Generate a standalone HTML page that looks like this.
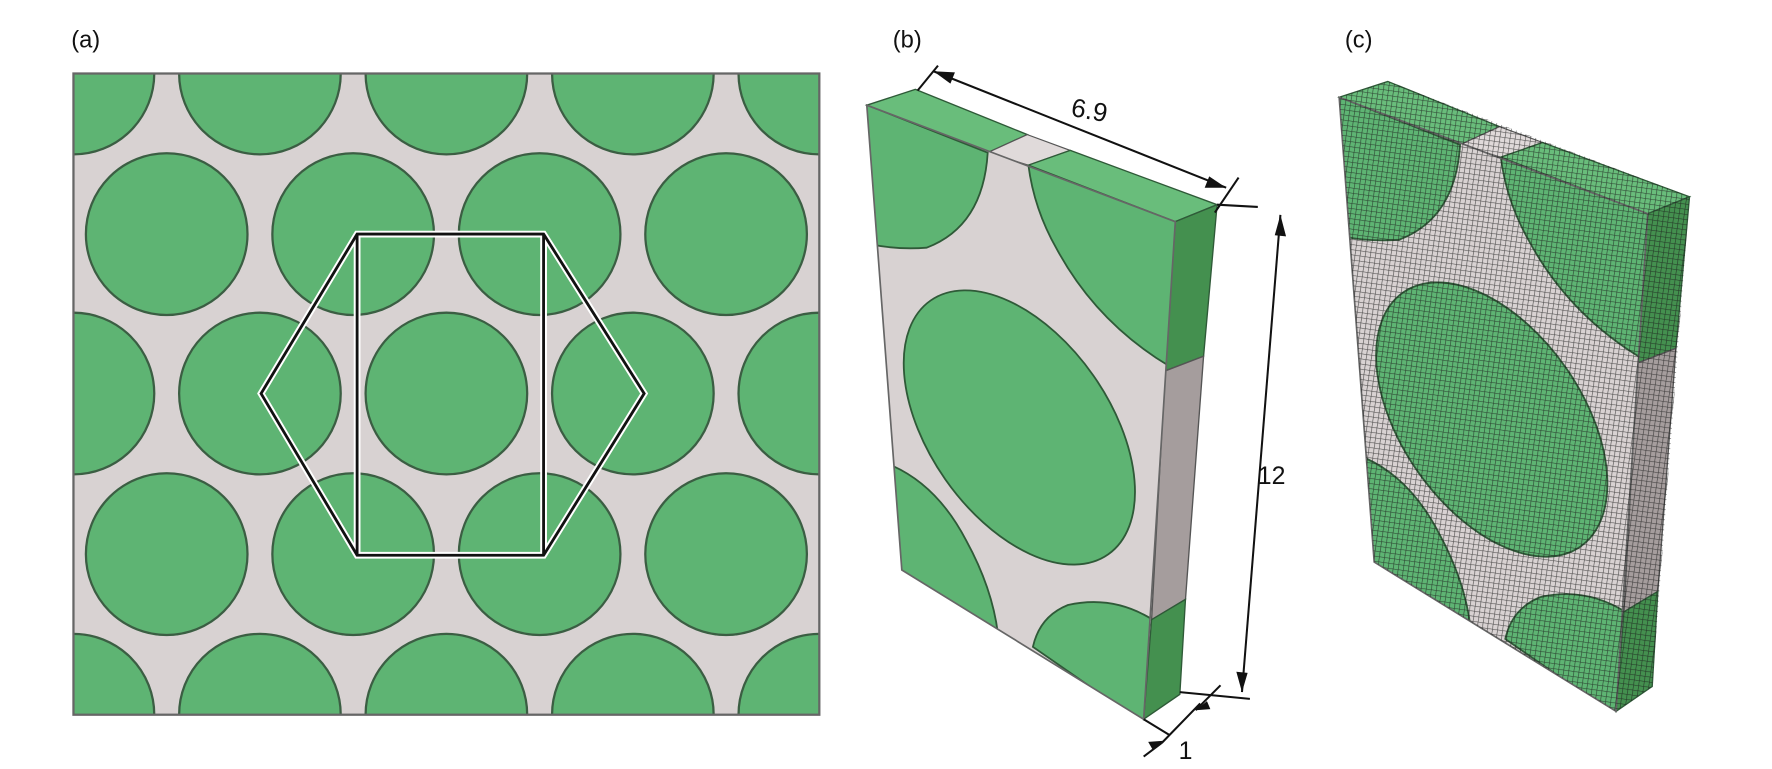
<!DOCTYPE html>
<html><head><meta charset="utf-8"><style>
html,body{margin:0;padding:0;background:#fff}
svg{display:block}
text{font-family:"Liberation Sans",sans-serif;fill:#111}
</style></head><body>
<svg width="1772" height="769" viewBox="0 0 1568 680" preserveAspectRatio="none" xmlns="http://www.w3.org/2000/svg">
<defs>
<clipPath id="ca"><rect x="65" y="65" width="660" height="567"/></clipPath>
<clipPath id="fb"><polygon points="767,93 1040,196 1012,636 798,504"/></clipPath>
<pattern id="mesh" width="4.5" height="4.5" patternUnits="userSpaceOnUse" patternTransform="rotate(8)">
<path d="M0 0H4.5M0 0V4.5" stroke="#1a1a1a" stroke-width="1.1" fill="none" opacity="0.7"/>
</pattern>
<g id="box">
<polygon points="767,93 810,79 909,119 874,135" fill="#69bd7b" stroke="#2f5a38" stroke-width="1.2"/>
<polygon points="874,135 909,119 947,133 910,146" fill="#e0dada" stroke="#555" stroke-width="1"/>
<polygon points="910,146 947,133 1077,181 1040,196" fill="#69bd7b" stroke="#2f5a38" stroke-width="1.2"/>
<polygon points="1040,196 1077,181 1065,315 1031,328" fill="#44904f" stroke="#2f5a38" stroke-width="1.2"/>
<polygon points="1031,328 1065,315 1049,530 1019,548" fill="#a59d9d" stroke="#555" stroke-width="1.2"/>
<polygon points="1019,548 1049,530 1044,614 1012,636" fill="#44904f" stroke="#2f5a38" stroke-width="1.2"/>
<polygon points="767,93 1040,196 1012,636 798,504" fill="#d8d2d2"/>
<g clip-path="url(#fb)" fill="#5eb473" stroke="#2f5a38" stroke-width="1.6">
<path d="M760,90 L874,135 Q870,200 820,219 Q795,221 770,216 Z"/>
<path d="M910,146 L1045,196 L1035,324 Q970,285 935,220 Q915,185 910,146 Z"/>
<ellipse cx="902" cy="378" rx="137" ry="80" transform="rotate(55 902 378)"/>
<path d="M790,412 Q830,430 855,478 Q878,520 883,560 L790,510 Z"/>
<path d="M914,572 Q920,545 945,535 Q985,526 1020,548 L1012,640 Z"/>
</g>
<polygon points="767,93 1040,196 1012,636 798,504" fill="none" stroke="#666" stroke-width="1.5"/>
</g>
</defs>

<text x="63" y="42" font-size="21">(a)</text>
<rect x="65" y="65" width="660" height="567" fill="#d8d2d2"/>
<g clip-path="url(#ca)" fill="#5eb473" stroke="#3b5e43" stroke-width="2">
<circle cx="65" cy="65" r="71.5"/><circle cx="230" cy="65" r="71.5"/><circle cx="395" cy="65" r="71.5"/><circle cx="560" cy="65" r="71.5"/><circle cx="725" cy="65" r="71.5"/>
<circle cx="147.5" cy="207" r="71.5"/><circle cx="312.5" cy="207" r="71.5"/><circle cx="477.5" cy="207" r="71.5"/><circle cx="642.5" cy="207" r="71.5"/><circle cx="807.5" cy="207" r="71.5"/>
<circle cx="65" cy="348" r="71.5"/><circle cx="230" cy="348" r="71.5"/><circle cx="395" cy="348" r="71.5"/><circle cx="560" cy="348" r="71.5"/><circle cx="725" cy="348" r="71.5"/>
<circle cx="147.5" cy="490" r="71.5"/><circle cx="312.5" cy="490" r="71.5"/><circle cx="477.5" cy="490" r="71.5"/><circle cx="642.5" cy="490" r="71.5"/><circle cx="807.5" cy="490" r="71.5"/>
<circle cx="65" cy="632" r="71.5"/><circle cx="230" cy="632" r="71.5"/><circle cx="395" cy="632" r="71.5"/><circle cx="560" cy="632" r="71.5"/><circle cx="725" cy="632" r="71.5"/>
</g>
<rect x="65" y="65" width="660" height="567" fill="none" stroke="#666" stroke-width="2"/>
<g fill="none">
<g stroke="#fff" stroke-width="6">
<polygon points="231,348 316,207 481,207 570,348 481,491 316,491"/>
<line x1="316" y1="207" x2="316" y2="491"/><line x1="481" y1="207" x2="481" y2="491"/>
</g>
<g stroke="#111" stroke-width="2.5">
<polygon points="231,348 316,207 481,207 570,348 481,491 316,491"/>
<line x1="316" y1="207" x2="316" y2="491"/><line x1="481" y1="207" x2="481" y2="491"/>
</g>
</g>

<text x="790" y="42" font-size="21">(b)</text>
<use href="#box"/>
<g stroke="#111" stroke-width="1.8" fill="none">
<line x1="812" y1="80" x2="830" y2="58"/>
<line x1="826" y1="63" x2="1085" y2="166"/>
<line x1="1075" y1="188" x2="1096" y2="157"/>
<line x1="1077" y1="181" x2="1113" y2="183"/>
<line x1="1133" y1="190" x2="1099" y2="612"/>
<line x1="1044" y1="612" x2="1106" y2="618"/>
<line x1="1058" y1="628" x2="1080" y2="606"/>
<line x1="1012" y1="636" x2="1035" y2="650"/>
<line x1="1028" y1="657" x2="1012" y2="669"/>
<line x1="1028" y1="657" x2="1062" y2="622"/>
</g>
<g fill="#111">
<polygon points="826,63 845,64 841,74"/>
<polygon points="1085,166 1066,166 1070,156"/>
<polygon points="1133,190 1128,208 1138,209"/>
<polygon points="1099,612 1094,594 1104,595"/>
<polygon points="1030,655 1020,663 1016,656"/>
<polygon points="1058,628 1068,620 1071,627"/>
</g>
<text x="948" y="106" font-size="23" transform="rotate(10 968 98)">6.9</text>
<text x="1113" y="428" font-size="22">12</text>
<text x="1043" y="671" font-size="22">1</text>

<text x="1190" y="42" font-size="21">(c)</text>
<g transform="translate(418,-7)">
<use href="#box"/>
<polygon points="767,93 810,79 1077,181 1044,614 1012,636 798,504" fill="url(#mesh)"/>
</g>
</svg>
</body></html>
